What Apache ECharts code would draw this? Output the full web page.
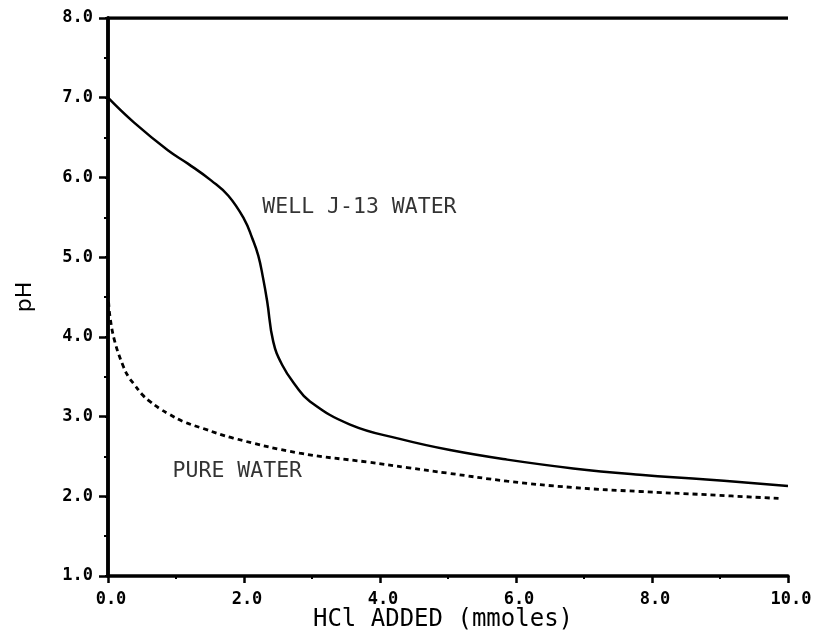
<!DOCTYPE html>
<html>
<head>
<meta charset="utf-8">
<script src="https://cdn.jsdelivr.net/npm/echarts@6/dist/echarts.min.js"></script>
<style>html,body{margin:0;padding:0;background:#fff}#c{width:815px;height:635px}</style>
</head>
<body>
<div id="c"></div>
<script>
// HCl added (mmoles) vs pH
const wellJ13X = [0, 0.38, 0.88, 1.18, 1.52, 1.77, 2.0, 2.12, 2.21, 2.28, 2.34, 2.43, 2.56, 2.75, 2.97, 3.56, 4.29, 5.03, 5.87, 6.84, 7.82, 8.8, 10];
const wellJ13Y = [7.0, 6.69, 6.34, 6.17, 5.96, 5.77, 5.48, 5.24, 5.02, 4.74, 4.45, 3.94, 3.65, 3.40, 3.19, 2.90, 2.72, 2.58, 2.46, 2.35, 2.27, 2.21, 2.13];
const pureX = [0, 0.03, 0.10, 0.22, 0.30, 0.37, 0.51, 0.60, 0.76, 0.90, 1.10, 1.40, 1.84, 2.82, 3.81, 4.40, 5.0, 5.87, 6.84, 7.82, 8.8, 9.92];
const pureY = [4.55, 4.25, 3.94, 3.64, 3.50, 3.42, 3.27, 3.20, 3.10, 3.03, 2.94, 2.85, 2.73, 2.54, 2.43, 2.36, 2.29, 2.19, 2.11, 2.06, 2.02, 1.97];
const xTicks = {min: 0, max: 10, interval: 2};
const yTicks = {min: 1, max: 8, interval: 1};
const annotations = [
  {text: 'WELL J-13 WATER', x: 2.27, y: 5.63},
  {text: 'PURE WATER', x: 0.95, y: 2.31}
];

const chart = echarts.init(document.getElementById('c'), null, {renderer: 'canvas'});
const lbl = {fontFamily: 'DejaVu Sans Mono', fontWeight: 'bold', fontSize: 17, color: '#000'};
chart.setOption({
  animation: false,
  backgroundColor: '#fff',
  grid: {left: 108, right: 27, top: 18, bottom: 59, show: false, outerBoundsMode: 'none', containLabel: false},
  xAxis: {
    type: 'value', min: xTicks.min, max: xTicks.max, interval: xTicks.interval,
    name: 'HCl ADDED (mmoles)', nameLocation: 'middle', nameGap: 32, nameMoveOverlap: false,
    nameTextStyle: {fontFamily: 'DejaVu Sans Mono', fontSize: 24, color: '#000', padding: [0, 10, 0, 0]},
    axisLine: {onZero: false, lineStyle: {color: '#000', width: 3.5}},
    axisTick: {length: 7, lineStyle: {color: '#000', width: 2.5}},
    minorTick: {show: true, splitNumber: 2, length: 3, lineStyle: {color: '#000', width: 2}},
    axisLabel: Object.assign({margin: 15, padding: [0, 0, 0, 6], formatter: v => v.toFixed(1)}, lbl),
    splitLine: {show: false}
  },
  yAxis: [{
    type: 'value', min: yTicks.min, max: yTicks.max, interval: yTicks.interval,
    name: 'pH', nameLocation: 'middle', nameGap: 72, nameMoveOverlap: false,
    nameTextStyle: {fontFamily: 'DejaVu Sans', fontSize: 22, color: '#000'},
    axisLine: {onZero: false, lineStyle: {color: '#000', width: 3.5}},
    axisTick: {length: 9, lineStyle: {color: '#000', width: 2.5}},
    minorTick: {show: true, splitNumber: 2, length: 4, lineStyle: {color: '#000', width: 2}},
    axisLabel: Object.assign({margin: 15, formatter: v => v.toFixed(1)}, lbl),
    splitLine: {show: false}
  }, {
    type: 'value', position: 'right', min: yTicks.min, max: yTicks.max, interval: yTicks.interval,
    axisLine: {show: true, lineStyle: {color: '#000', width: 3.5}},
    axisTick: {show: true, inside: true, length: 3, lineStyle: {color: '#000', width: 2}},
    axisLabel: {show: false},
    splitLine: {show: false}
  }],
  series: [{
    type: 'line', name: 'WELL J-13 WATER', showSymbol: false, smooth: 0.45,
    data: wellJ13X.map((x, i) => [x, wellJ13Y[i]]),
    lineStyle: {color: '#000', width: 2.5}
  }, {
    type: 'line', name: 'PURE WATER', showSymbol: false, smooth: 0.4,
    data: pureX.map((x, i) => [x, pureY[i]]),
    lineStyle: {color: '#000', width: 2.8, type: [5, 4]}
  }, {
    type: 'scatter', symbolSize: 0, silent: true,
    data: annotations.map(a => ({value: [a.x, a.y], label: {formatter: a.text}})),
    label: {show: true, position: 'right', distance: 0, fontFamily: 'DejaVu Sans Mono', fontSize: 21.5, color: '#000'}
  }, {
    type: 'line', xAxisIndex: 0, yAxisIndex: 0, showSymbol: false, silent: true,
    data: [[xTicks.min, yTicks.max], [xTicks.max, yTicks.max]],
    lineStyle: {color: '#000', width: 3.5}
  }]
});
</script>
</body>
</html>
